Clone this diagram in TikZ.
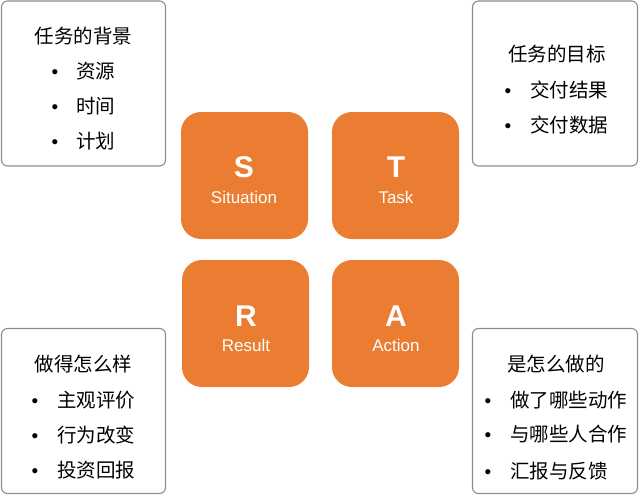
\documentclass[tikz,border=0pt]{standalone}
\usepackage{fontspec}
\setmainfont{Liberation Sans}
\newfontfamily\cjk{Noto Sans CJK SC}
\usetikzlibrary{positioning}

\definecolor{staror}{RGB}{234,125,49}
\definecolor{framegray}{RGB}{140,140,140}

\begin{document}
\begin{tikzpicture}[
    x=1pt, y=-1pt,
    tile/.style={rectangle, fill=staror, rounded corners=20pt, minimum width=127pt, minimum height=127pt, inner sep=0pt},
    letter/.style={anchor=base, text=white, font=\fontsize{30}{30}\selectfont\bfseries, inner sep=0pt},
    word/.style={anchor=base, text=white, font=\fontsize{17}{17}\selectfont, inner sep=0pt},
    panel/.style={rectangle, draw=framegray, line width=1.1pt, rounded corners=6pt, inner sep=0pt},
    title/.style={anchor=base, font=\cjk\fontsize{19.5}{20}\selectfont, inner sep=0pt},
    item/.style={anchor=base west, font=\cjk\fontsize{19.5}{20}\selectfont, inner sep=0pt},
    dot/.style={anchor=base, font=\fontsize{19}{19}\selectfont, inner sep=0pt}
]
\useasboundingbox (0,0) rectangle (640,496);

% the four STAR tiles
\node [tile] (S) at (244.5,175.5) {};
\node [tile] (T) at (395.5,175.5) {};
\node [tile] (R) at (245.5,323.5) {};
\node [tile] (A) at (395.5,323.5) {};

\node [letter] (Sl) at (244,177) {S};
\node [word] (Sw) at (244,203) {Situation};
\node [letter] (Tl) at (396,177) {T};
\node [word] (Tw) at (396,203) {Task};
\node [letter] (Rl) at (246,326) {R};
\node [word] (Rw) at (246,351) {Result};
\node [letter] (Al) at (396,326) {A};
\node [word] (Aw) at (396,351) {Action};

% the four text panels
\node [panel, minimum width=164pt, minimum height=165pt] (sit) at (83.5,83.5) {};
\node [panel, minimum width=165pt, minimum height=165pt] (task) at (555,83.5) {};
\node [panel, minimum width=164pt, minimum height=165pt] (res) at (83.5,411) {};
\node [panel, minimum width=165pt, minimum height=165pt] (act) at (555,411) {};

% situation
\node [title] (sitT) at (83.5,43) {任务的背景};
\foreach \i/\y/\t in {1/78.5/资源, 2/113/时间, 3/148/计划} {
  \node [dot] (sitD\i) at (55,\y) {•};
  \node [item] (sitI\i) at (76,\y) {\t};
}

% task
\node [title] (taskT) at (557,61.5) {任务的目标};
\foreach \i/\y/\t in {1/97/交付结果, 2/132/交付数据} {
  \node [dot] (taskD\i) at (508,\y) {•};
  \node [item] (taskI\i) at (530,\y) {\t};
}

% result
\node [title] (resT) at (83.5,371.5) {做得怎么样};
\foreach \i/\y/\t in {1/407/主观评价, 2/442/行为改变, 3/477/投资回报} {
  \node [dot] (resD\i) at (35,\y) {•};
  \node [item] (resI\i) at (57,\y) {\t};
}

% action
\node [title] (actT) at (556,371.5) {是怎么做的};
\foreach \i/\y/\t in {1/407/做了哪些动作, 2/441.5/与哪些人合作, 3/478/汇报与反馈} {
  \node [dot] (actD\i) at (488,\y) {•};
  \node [item] (actI\i) at (510,\y) {\t};
}

\end{tikzpicture}
\end{document}
